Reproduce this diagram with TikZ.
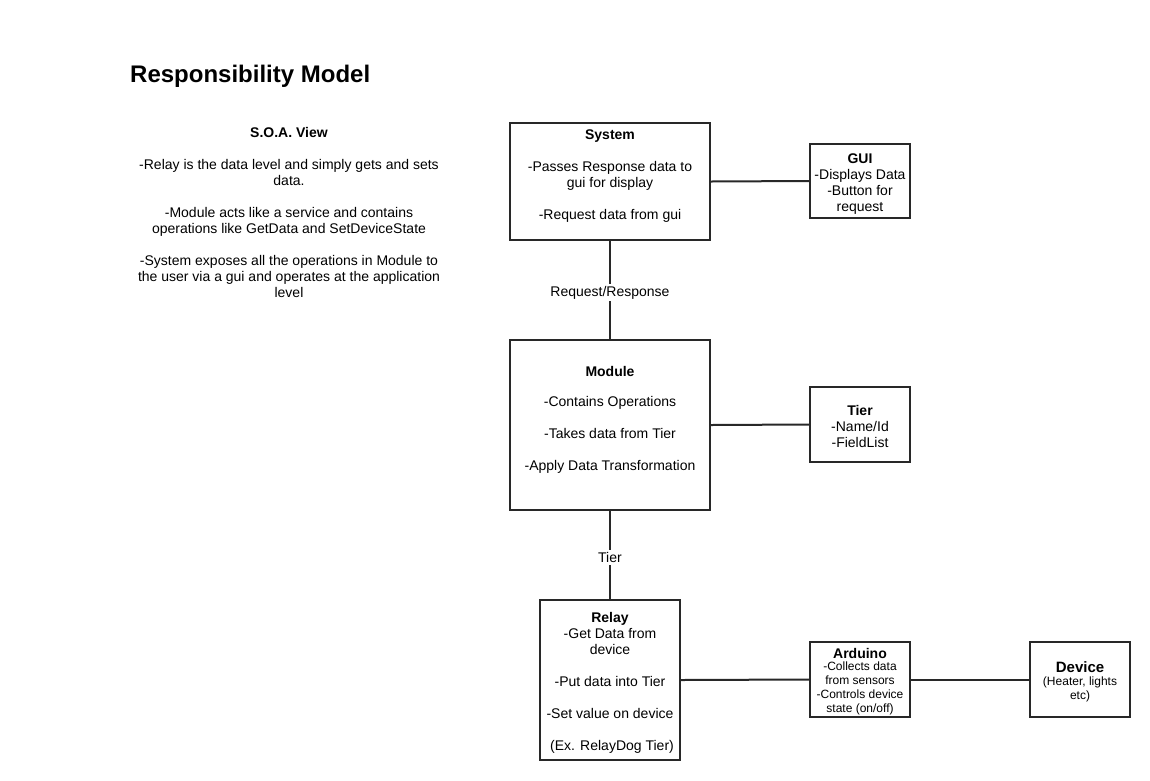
\documentclass[tikz,border=0pt]{standalone}
\usepackage{fontspec}
\setmainfont{Liberation Sans}
\definecolor{linec}{RGB}{40,40,40}
\definecolor{txtc}{RGB}{0,0,0}
\begin{document}
\begin{tikzpicture}[x=1pt,y=-1pt,
  box/.style={draw=linec, line width=2pt, fill=white, inner sep=0pt, rectangle},
  conn/.style={draw=linec, line width=2pt},
  txt/.style={inner sep=0pt, align=center, text=txtc, font=\fontsize{14}{16}\selectfont, anchor=base},
  smalltxt/.style={inner sep=0pt, align=center, text=txtc, font=\fontsize{12}{14}\selectfont, anchor=base},
  lbl/.style={fill=white, inner sep=2pt, text=txtc, font=\fontsize{14}{16}\selectfont, yshift=-2.5pt}
]
\useasboundingbox (0,0) rectangle (1150,780);

% title
\node[inner sep=0pt, anchor=base west, font=\bfseries\fontsize{24}{28}\selectfont] (title) at (130,82.5) {Responsibility Model};

% S.O.A. view (anchor base = last line baseline)
\node[txt] (soa) at (289,297) {\textbf{S.O.A. View}\\ \\
-Relay is the data level and simply gets and sets\\ data.\\ \\
-Module acts like a service and contains\\ operations like GetData and SetDeviceState\\ \\
-System exposes all the operations in Module to\\ the user via a gui and operates at the application\\ level};

% boxes
\node[box, minimum width=200, minimum height=117] (system) at (610,181.5) {};
\node[box, minimum width=100, minimum height=74] (gui) at (860,181) {};
\node[box, minimum width=200, minimum height=170] (module) at (610,425) {};
\node[box, minimum width=100, minimum height=75] (tier) at (860,424.5) {};
\node[box, minimum width=140, minimum height=160] (relay) at (610,680) {};
\node[box, minimum width=100, minimum height=75] (arduino) at (860,679.5) {};
\node[box, minimum width=100, minimum height=75] (device) at (1080,679.5) {};

% connectors
\draw[conn] (system.east) -- (gui.west);
\draw[conn] (module.east) -- (tier.west);
\draw[conn] (relay.east) -- (arduino.west);
\draw[conn] (arduino.east) -- (device.west);
\draw[conn] (system.south) -- node[lbl] (lblrr) {Request/Response} (module.north);
\draw[conn] (module.south) -- node[lbl] (lbltier) {Tier} (relay.north);

% box texts (anchor base = last line baseline)
\node[txt] (systemtxt) at (610,219) {\textbf{System}\\ \\ -Passes Response data to\\ gui for display\\ \\ -Request data from gui};
\node[txt] (guitxt) at (860,211) {\textbf{GUI}\\ -Displays Data\\ -Button for\\ request};
\node[txt] (moduletxt) at (610,470) {\textbf{Module}\\[14pt] -Contains Operations\\[16pt] -Takes data from Tier\\[16pt] -Apply Data Transformation};
\node[txt] (tiertxt) at (860,447) {\textbf{Tier}\\ -Name/Id\\ -FieldList};
\node[txt] (relaytxt) at (610,750) {\textbf{Relay}\\ -Get Data from\\ device\\ \\ -Put data into Tier\\ \\ -Set value on device\\ \\ \hspace*{4pt}(Ex. RelayDog Tier)};
\node[txt] (arduinotitle) at (860,658) {\textbf{Arduino}};
\node[smalltxt] (arduinotxt) at (860,712.5) {-Collects data\\ from sensors\\ -Controls device\\ state (on/off)};
\node[txt, font=\bfseries\fontsize{15}{17}\selectfont] (devicetitle) at (1080,672) {Device};
\node[smalltxt] (devicetxt) at (1080,699.5) {(Heater, lights\\ etc)};
\end{tikzpicture}
\end{document}
